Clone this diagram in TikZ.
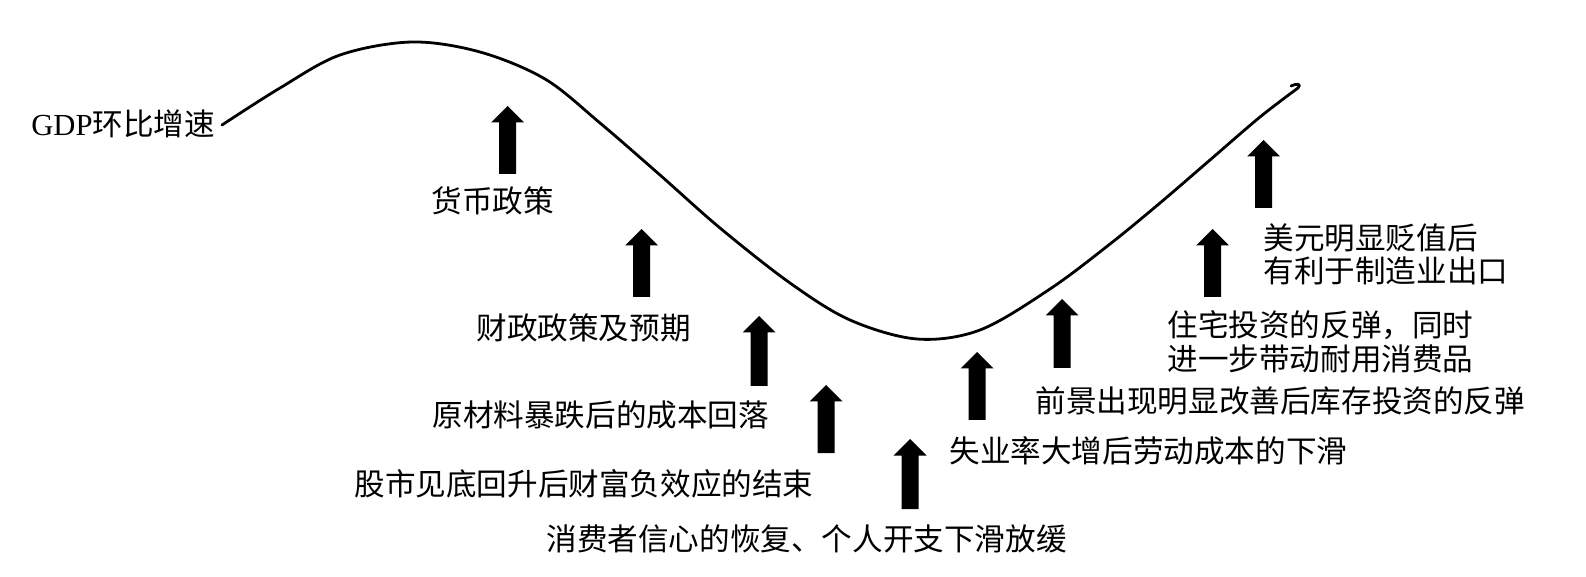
\documentclass[tikz,border=0pt]{standalone}
\usepackage{fontspec}
\setmainfont{Noto Sans CJK SC}
\newfontfamily\latserif{Liberation Serif}
\usetikzlibrary{calc}
\newcommand\lblfont{\fontsize{15.3pt}{17pt}\selectfont}
\newcommand\blockarrow[4]{% name, x, ytip, ybottom
  \coordinate (#1) at (#2,#3);
  \fill[barrow] (#2-8.5,#4) -- (#2-8.5,#3+16.5) -- (#2-16.5,#3+16.5) -- (#1)
    -- (#2+16.5,#3+16.5) -- (#2+8.5,#3+16.5) -- (#2+8.5,#4) -- cycle;}
\tikzset{
  lbl/.style={anchor=base west, inner sep=0pt, font=\lblfont, text=black},
  gdpcurve/.style={line width=1.4pt, line cap=round, line join=round},
  barrow/.style={fill=black}
}
\begin{document}
\begin{tikzpicture}[x=0.5pt,y=-0.5pt]
\useasboundingbox (0,0) rectangle (1586,577);

% curve
\coordinate (cstart) at (222,125);
\coordinate (cend) at (1298,88);
\draw[gdpcurve] plot[smooth, tension=0.55] coordinates {
  (222,125) (280,88) (340,55) (412,42) (480,52) (545,79) (600,123)
  (660,175) (720,228) (790,283) (850,320) (917,339) (980,330)
  (1050,289) (1110,244) (1160,203) (1210,160) (1260,117) (1298,88)};
\draw[gdpcurve] (cend) .. controls (1302,84) and (1297,83) .. (1291,86);

% labels
\node[lbl] (gdp) at (31,136) {{\latserif GDP}环比增速};
\node[lbl] (l1) at (431,213) {货币政策};
\node[lbl] (l2) at (476,340) {财政政策及预期};
\node[lbl] (l3) at (432,427) {原材料暴跌后的成本回落};
\node[lbl] (l4) at (354,495) {股市见底回升后财富负效应的结束};
\node[lbl] (l5) at (546,550) {消费者信心的恢复、个人开支下滑放缓};
\node[lbl] (l6) at (949,462) {失业率大增后劳动成本的下滑};
\node[lbl] (l7) at (1035,413) {前景出现明显改善后库存投资的反弹};
\node[lbl] (l8a) at (1167,337) {住宅投资的反弹，同时};
\node[lbl] (l8b) at (1167,371) {进一步带动耐用消费品};
\node[lbl] (l9a) at (1263,250) {美元明显贬值后};
\node[lbl] (l9b) at (1263,283) {有利于制造业出口};

% block arrows
\blockarrow{a1}{507.5}{106}{174}
\blockarrow{a2}{641.5}{229}{297}
\blockarrow{a3}{759}{316}{386}
\blockarrow{a4}{826}{385}{453}
\blockarrow{a5}{910}{439}{509}
\blockarrow{a6}{977}{352}{420}
\blockarrow{a7}{1062}{299}{368}
\blockarrow{a8}{1212.5}{229}{297}
\blockarrow{a9}{1263.5}{140}{208}
\end{tikzpicture}
\end{document}
